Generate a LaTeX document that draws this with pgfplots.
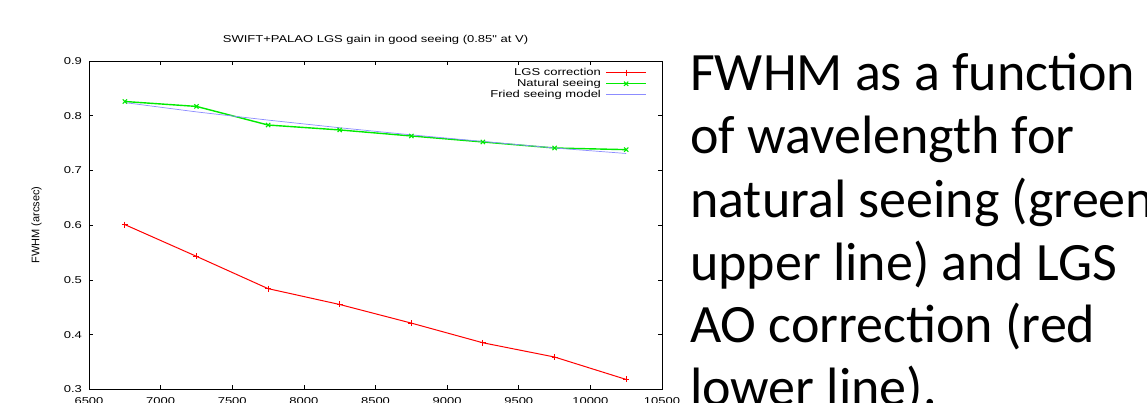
\documentclass[border=0pt]{standalone}
\usepackage{pgfplots}
\pgfplotsset{compat=1.18}
\usepackage{fontspec}
\setmainfont{Liberation Sans}
\newfontfamily\plotfont{Liberation Sans}[FakeStretch=1.3]
\newfontfamily\labfont{Liberation Sans}
\newfontfamily\slidefont{Carlito}
\definecolor{gred}{RGB}{255,0,0}
\definecolor{ggreen}{RGB}{0,235,0}
\definecolor{gblue}{RGB}{140,140,255}
\begin{document}
\begin{tikzpicture}[x=1pt,y=1pt]
\useasboundingbox (0,0) rectangle (1147,402);
\clip (0,0) rectangle (1147,402);
\fill[white] (0,0) rectangle (1147,402);
\begin{axis}[
  at={(89pt,12.7pt)}, anchor=south west,
  scale only axis, width=573pt, height=328.3pt,
  xmin=6500, xmax=10500, ymin=0.3, ymax=0.9,
  xtick={6500,7000,7500,8000,8500,9000,9500,10000,10500},
  ytick={0.3,0.4,0.5,0.6,0.7,0.8,0.9},
  scaled x ticks=false, scaled y ticks=false,
  tick align=inside, major tick length=4pt,
  tick style={black, line width=0.7pt},
  axis line style={black, line width=0.9pt},
  ticklabel style={font=\plotfont\fontsize{10}{12}\selectfont},
  /pgf/number format/assume math mode=true,
  x tick label style={/pgf/number format/set thousands separator={}},
  xticklabel style={yshift=-4.4pt},
  y tick label style={/pgf/number format/fixed, /pgf/number format/fixed zerofill, /pgf/number format/precision=1},
  yticklabel style={xshift=-3.5pt},
  title={SWIFT+PALAO LGS gain in good seeing (0.85" at V)},
  title style={font=\plotfont\fontsize{10}{12}\selectfont, at={(0.5,1)}, anchor=base, yshift=12.7pt},
  legend style={at={(rel axis cs:1,1)}, anchor=north east, xshift=-15pt, yshift=-6pt,
    draw=none, fill=none, inner sep=0pt, row sep=0pt, column sep=4pt,
    font=\plotfont\fontsize{10}{12}\selectfont,
    nodes={inner sep=0.5pt, text height=7.5pt, text depth=2.5pt}},
  legend cell align=right, legend plot pos=right,
  legend image code/.code={\draw[mark repeat=2,mark phase=2,#1] plot coordinates {(0pt,0pt) (20pt,0pt) (40pt,0pt)};},
]
\addplot[gred, line width=1pt, mark=+, mark size=3pt] coordinates {
  (6750,0.601) (7250,0.543) (7750,0.484) (8250,0.455)
  (8750,0.421) (9250,0.385) (9750,0.359) (10250,0.318)};
\addlegendentry{LGS correction}
\addplot[ggreen, line width=1.4pt, mark=x, mark size=3pt, mark options={line width=1.1pt}] coordinates {
  (6750,0.826) (7250,0.817) (7750,0.783) (8250,0.774)
  (8750,0.763) (9250,0.752) (9750,0.741) (10250,0.738)};
\addlegendentry{Natural seeing}
\addplot[gblue, line width=0.7pt] coordinates {
  (6750,0.824) (7250,0.807) (7750,0.792) (8250,0.778)
  (8750,0.765) (9250,0.753) (9750,0.741) (10250,0.731)};
\addlegendentry{Fried seeing model}
\end{axis}
\node[rotate=90, font=\labfont\fontsize{11}{13}\selectfont, inner sep=0pt] at (36.5,177) {FWHM (arcsec)};
\begin{scope}[every node/.style={anchor=base west, inner sep=0pt, font=\slidefont\fontsize{54}{60}\selectfont}]
\node at (690,311) {FWHM as a function};
\node at (690,248) {of wavelength for};
\node at (690,185) {natural seeing (green};
\node at (690,122) {upper line) and LGS};
\node at (690,60) {AO correction (red};
\node at (690,-3) {lower line).};
\end{scope}
\end{tikzpicture}
\end{document}
